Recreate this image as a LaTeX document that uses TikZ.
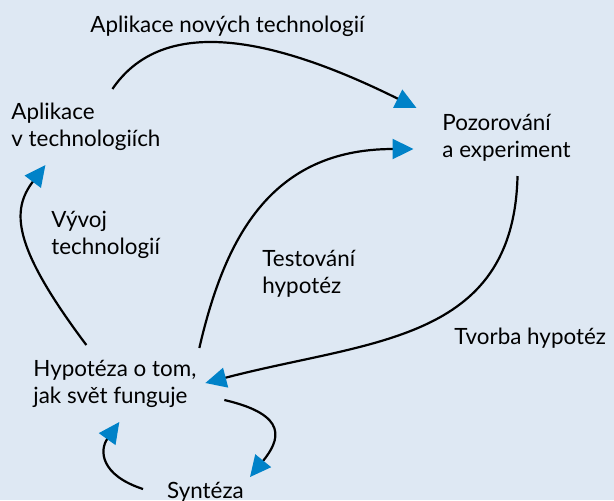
\documentclass[tikz,border=0pt]{standalone}
\usepackage{fontspec}
\setmainfont{Lato}
\usetikzlibrary{arrows.meta}
\definecolor{bgblue}{RGB}{222,232,243}
\definecolor{tipblue}{RGB}{0,130,200}
\begin{document}
\begin{tikzpicture}[x=0.5pt, y=-0.5pt, font=\fontsize{11.2}{13.5}\selectfont,
        main/.style = {inner sep=0pt, align=left, anchor=west},
        letter/.style = {inner sep=0pt, align=left},
        arr/.style = {line width=1.1pt, -{Triangle[length=10.5pt, width=10pt, color=tipblue]}}]
        \fill[bgblue] (0,0) rectangle (614,500);
        \useasboundingbox (0,0) rectangle (614,500);
        \node[main] (apl) at (11,127) {Aplikace\\v technologiích};
        \node[main] (poz) at (442,138) {Pozorování\\a experiment};
        \node[main] (hyp) at (33,384) {Hypotéza o tom,\\jak svět funguje};
        \node[letter, anchor=base] (syn) at (205.5,498) {Syntéza};
        \node[letter, anchor=base west] (l1) at (90,32) {Aplikace nových technologií};
        \node[letter, anchor=west] (l2) at (51,235) {Vývoj\\technologií};
        \node[letter, anchor=west] (l3) at (262,274) {Testování\\hypotéz};
        \node[letter, anchor=base west] (l4) at (454,344) {Tvorba hypotéz};
        \draw[arr] ([shift={(26.5,-38)}]apl.center) .. controls +(47,-69) and +(-157,-78) .. ([shift={(-90,-30)}]poz.center);
        \draw[arr] ([shift={(84.5,-36)}]hyp.center) .. controls +(25,-108) and +(-144,0) .. ([shift={(-93,11)}]poz.center);
        \draw[arr] ([shift={(11,38)}]poz.center) .. controls +(-4,167) and +(164,-43) .. ([shift={(90.5,-1)}]hyp.center);
        \draw[arr] ([shift={(-28.5,-39)}]hyp.center) .. controls +(-75,-100) and +(-34,45) .. ([shift={(-40.5,38)}]apl.center);
        \draw[arr] ([shift={(109.5,16)}]hyp.center) .. controls +(65,15) and +(30,-37) .. ([shift={(44.5,-21)}]syn.base);
        \draw[arr] ([shift={(-62.5,-9)}]syn.base) .. controls +(-43,-14) and +(-20,28) .. ([shift={(4.5,38)}]hyp.center);
\end{tikzpicture}
\end{document}
